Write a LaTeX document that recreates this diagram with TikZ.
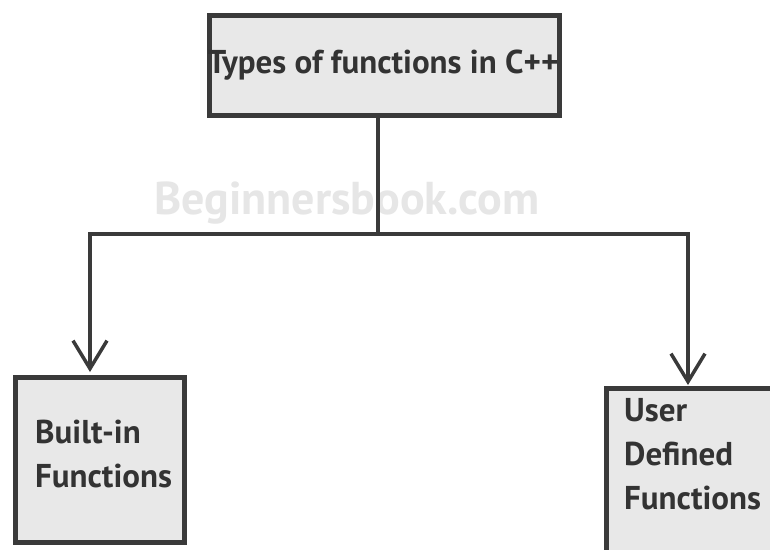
\documentclass[tikz,border=0pt]{standalone}
\usepackage{fontspec}
\setmainfont{PT Sans}
\usetikzlibrary{arrows.meta}
\definecolor{boxfill}{HTML}{E8E8E8}
\definecolor{edge}{HTML}{3A3A3A}
\definecolor{ink}{HTML}{333333}
\definecolor{markgray}{HTML}{E6E6E6}
\tikzset{
  fnbox/.style={draw=edge, line width=5pt, fill=boxfill, inner sep=0pt},
  fntext/.style={text=ink, inner sep=0pt, align=left, font=\fontsize{33}{44}\selectfont\bfseries},
  link/.style={draw=edge, line width=4pt, -{Straight Barb[length=28pt,width=34pt,line width=3.5pt]}}
}

\begin{document}
\begin{tikzpicture}[x=1pt,y=-1pt]
    \useasboundingbox (0,0) rectangle (770,549);
    \clip (0,0) rectangle (770,549);
    \fill[white] (0,0) rectangle (770,549);
    % boxes
    \node[fnbox, minimum width=350pt, minimum height=100pt] (types) at (384.5,65.5) {};
    \node[fntext] (typestext) at (383,65) {Types of functions in C++};
    \node[fnbox, minimum width=169pt, minimum height=165pt] (builtin) at (100,460) {};
    \node[fntext, anchor=north west] (builtintext) at (35,420) {Built-in\\Functions};
    \node[fnbox, minimum width=184pt, minimum height=182pt] (userdef) at (698.25,479.25) {};
    \node[fntext, anchor=north west] (userdeftext) at (624,398) {User\\Defined\\Functions};
    % watermark
    \node[text=markgray, font=\fontsize{46}{46}\selectfont\bfseries] (watermark) at (347,203) {Beginnersbook.com};
    % connectors
    \coordinate (split) at (378,234);
    \coordinate (leftend) at (90,372);
    \coordinate (rightend) at (688,385);
    \draw[edge, line width=4pt] (types.south -| split) -- (split);
    \draw[link] (split) -| (leftend);
    \draw[link] (split) -| (rightend);
\end{tikzpicture}
\end{document}
